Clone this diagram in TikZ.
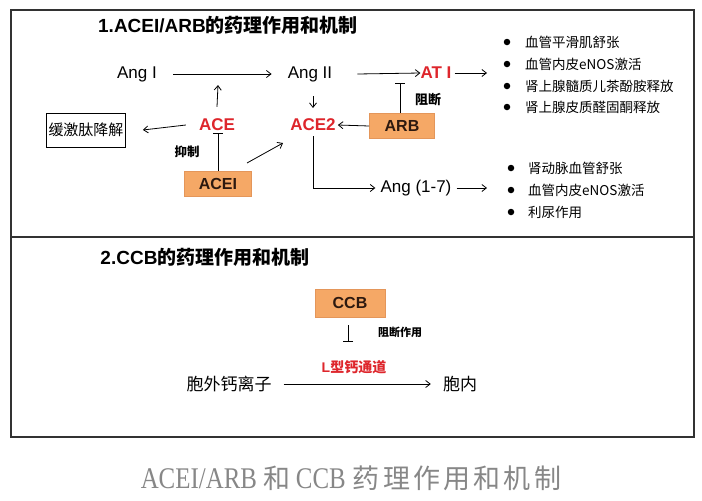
\documentclass[tikz,border=0pt]{standalone}
\usepackage{fontspec}
\setmainfont{Liberation Sans}
\newfontfamily\cjk{Noto Sans CJK SC}
\newfontfamily\capserif[FakeStretch=0.83]{Liberation Serif}
\newfontfamily\capcjk[LetterSpace=12]{Noto Sans CJK SC}
\usetikzlibrary{arrows.meta}
\definecolor{boxorange}{RGB}{245,168,102}
\definecolor{boxedge}{RGB}{228,150,90}
\definecolor{accred}{RGB}{222,38,44}
\definecolor{framegray}{RGB}{50,50,50}
\definecolor{capgray}{RGB}{135,135,135}
\definecolor{drugtext}{RGB}{45,25,15}
\newcommand{\pxs}[1]{\fontsize{#1}{#1}\selectfont}
\tikzset{
  txt/.style={inner sep=0pt, font=\pxs{17}},
  cjktxt/.style={inner sep=0pt, font=\pxs{17}\cjk},
  redlbl/.style={inner sep=0pt, text=accred, font=\pxs{17}\bfseries},
  drug/.style={fill=boxorange, draw=boxedge, line width=0.6pt, font=\pxs{16}\bfseries, text=drugtext, inner sep=0pt},
  arr/.style={-{Straight Barb[length=4.5pt,width=7pt]}, line width=0.8pt},
  blockarr/.style={-{Bar[width=10pt,line width=0.9pt]}, line width=0.8pt},
  bul/.style={inner sep=0pt, font=\pxs{13.5}\cjk, anchor=west},
  dot/.style={circle, fill=black, inner sep=0pt, minimum size=6.5pt},
  small/.style={inner sep=0pt, font=\pxs{12.5}\cjk\bfseries},
  titl/.style={inner sep=0pt, font=\pxs{19}\bfseries}
}
\begin{document}
\begin{tikzpicture}[x=1pt,y=-1pt]
\useasboundingbox[fill=white] (0,0) rectangle (702,501);
% frame
\draw[framegray, line width=1.2pt] (11,10) rectangle (694,437);
\draw[framegray, line width=1.2pt] (11,237) -- (694,237);

% ---------- section 1 ----------
\node[titl] (t1) at (228,25) {1.ACEI/ARB{\cjk 的药理作用和机制}};
\node[txt] (angI) at (137,74) {Ang I};
\node[txt] (angII) at (310,74) {Ang II};
\node[redlbl] (atI) at (436,73) {AT I};
\node[redlbl] (ace) at (217,125) {ACE};
\node[redlbl] (ace2) at (313,125) {ACE2};
\node[drug, minimum width=65pt, minimum height=25pt] (arb) at (402,126) {ARB};
\node[draw=black, line width=0.9pt, inner sep=0pt, minimum width=79pt, minimum height=34pt, font=\pxs{15}\cjk] (kin) at (86,130) {缓激肽降解};
\node[drug, minimum width=67pt, minimum height=25pt] (acei) at (218,184) {ACEI};
\node[txt] (ang17) at (416,188) {Ang (1-7)};
\node[small] (yz) at (187,152) {抑制};
\node[small, font=\pxs{13}\cjk\bfseries] (zd) at (428,100) {阻断};

% bullet list 1
\node[dot] (b1) at (507,42) {};
\node[dot] (b2) at (507,64) {};
\node[dot] (b3) at (507,86) {};
\node[dot] (b4) at (507,107) {};
\node[bul] (l1) at (525,42) {血管平滑肌舒张};
\node[bul] (l2) at (525,64) {血管内皮eNOS激活};
\node[bul] (l3) at (525,86) {肾上腺髓质儿茶酚胺释放};
\node[bul] (l4) at (525,107) {肾上腺皮质醛固酮释放};
% bullet list 2
\node[dot] (c1) at (511,168) {};
\node[dot] (c2) at (511,190) {};
\node[dot] (c3) at (511,212) {};
\node[bul] (m1) at (528,168) {肾动脉血管舒张};
\node[bul] (m2) at (528,190) {血管内皮eNOS激活};
\node[bul] (m3) at (528,212) {利尿作用};

% free ends
\coordinate (angarrow) at (218,85);
\coordinate (aceibar) at (218,133);
\coordinate (arbbar) at (400,83);
\coordinate (l1end) at (487,73);
\coordinate (l2end) at (487,188);
\coordinate (corner) at (313,188);
\coordinate (acei2s) at (247,163);
\coordinate (acei2e) at (283,143);
\coordinate (a2s) at (313,96);
\coordinate (a2e) at (313,108);

% connectors section 1
\draw[arr] ([xshift=16pt]angI.east) -- ([xshift=-16pt]angII.west);
\draw[arr] ([xshift=25pt]angII.east) -- (atI.west);
\draw[arr] ([xshift=3pt]atI.east) -- (l1end);
\draw[arr] ([yshift=12pt]ace.north) -- (angarrow);
\draw[arr] ([xshift=-13pt]ace.west) -- ([xshift=17pt]kin.east);
\draw[blockarr] (acei.north) -- (aceibar);
\draw[arr] (acei2s) -- (acei2e);
\draw[arr] (a2s) -- (a2e);
\draw[arr] (arb.west) -- ([xshift=2pt]ace2.east);
\draw[blockarr] (arb.north -| arbbar) -- (arbbar);
\draw[arr] ([yshift=-5pt]ace2.south) -- (corner) -- ([xshift=-5pt]ang17.west);
\draw[arr] ([xshift=5pt]ang17.east) -- (l2end);

% ---------- section 2 ----------
\node[titl] (t2) at (205,257) {2.CCB{\cjk 的药理作用和机制}};
\node[drug, minimum width=70pt, minimum height=28pt] (ccb) at (350,303) {CCB};
\node[small, font=\pxs{11}\cjk\bfseries] (zdzy) at (400,332) {阻断作用};
\node[inner sep=0pt, text=accred, font=\pxs{14}\bfseries] (ltype) at (354,367) {L{\cjk 型钙通道}};
\node[cjktxt] (out) at (229,384) {胞外钙离子};
\node[cjktxt] (in) at (460,384) {胞内};
\coordinate (ccbtop) at (348,325);
\coordinate (ccbbar) at (348,342);
\draw[blockarr] (ccbtop) -- (ccbbar);
\draw[arr] ([xshift=12pt]out.east) -- ([xshift=-12pt]in.west);

% caption
\node[inner sep=0pt, text=capgray] (cap) at (351,478)
  {{\capserif\pxs{30}ACEI/ARB}\hspace{7pt}{\capcjk\pxs{27}和}\hspace{5pt}{\capserif\pxs{30}CCB}\hspace{7pt}{\capcjk\pxs{27}药理作用和机制}};
\end{tikzpicture}
\end{document}
